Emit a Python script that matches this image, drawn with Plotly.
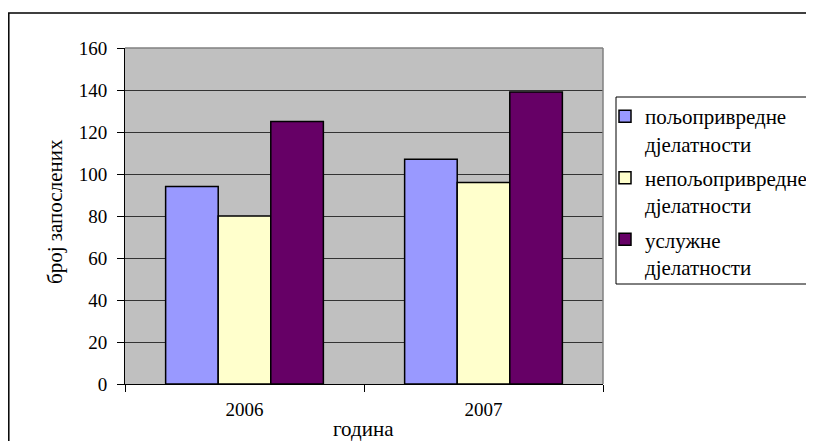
import plotly.graph_objects as go

years = ["2006", "2007"]
series_names = ["пољопривредне<br>дјелатности", "непољопривредне<br>дјелатности", "услужне<br>дјелатности"]
agri = [94, 107]
nonagri = [80, 96]
services = [125, 139]
colors = ["#9999FF", "#FFFFCC", "#660066"]
y_ticks = [0, 20, 40, 60, 80, 100, 120, 140, 160]

FONT = "Liberation Serif, Times New Roman, serif"
OFF = 8  # page body margin
W, H = 814 - OFF, 441 - OFF
L, R, T, B = 125 - OFF, 603 - OFF, 48 - OFF, 384 - OFF

def px_x(p):
    return (p - OFF - L) / (R - L)

def px_y(p):
    return (B - (p - OFF)) / (B - T)

fig = go.Figure()
for i, (name, vals, col) in enumerate(zip(series_names, [agri, nonagri, services], colors)):
    fig.add_trace(go.Bar(x=years, y=vals, name=name, legendgroup=f"g{i}",
                         marker=dict(color=col, line=dict(color="black", width=1.5))))

fig.update_layout(
    width=W, height=H,
    margin=dict(l=L, r=W - R, t=T, b=H - B, pad=0, autoexpand=False),
    paper_bgcolor="white", plot_bgcolor="#C0C0C0",
    barmode="group", bargap=0.34, bargroupgap=0,
    font=dict(family=FONT, size=20, color="black"),
    showlegend=True,
    legend=dict(x=px_x(605), y=px_y(96), xanchor="left", yanchor="top",
                bgcolor="rgba(0,0,0,0)", borderwidth=0, valign="top",
                font=dict(family=FONT, size=21, color="black"),
                tracegroupgap=4, itemwidth=30, traceorder="grouped"),
    xaxis=dict(type="category", tickson="boundaries", ticks="outside", ticklen=7,
               tickcolor="black", showline=True, linecolor="black", linewidth=1,
               showgrid=False, ticklabelstandoff=8, automargin=False,
               tickfont=dict(family=FONT, size=19, color="black")),
    yaxis=dict(range=[0, 160], tickvals=y_ticks, ticks="outside", ticklen=7,
               tickcolor="black", showline=True, linecolor="black", linewidth=1,
               showgrid=True, gridcolor="#333333", gridwidth=1, zeroline=False,
               ticklabelstandoff=6, automargin=False,
               tickfont=dict(family=FONT, size=19, color="black")),
    shapes=[
        dict(type="rect", xref="paper", yref="paper",
             x0=px_x(8.8), x1=px_x(830), y0=px_y(460), y1=px_y(13),
             line=dict(color="black", width=1.5), layer="below"),
        dict(type="line", xref="paper", yref="paper", x0=0, x1=1, y0=1, y1=1,
             line=dict(color="#808080", width=1.5)),
        dict(type="line", xref="paper", yref="paper", x0=1, x1=1, y0=0, y1=1,
             line=dict(color="#808080", width=1.5)),
        dict(type="rect", xref="paper", yref="paper",
             x0=px_x(616), x1=px_x(813), y0=px_y(284), y1=px_y(97),
             line=dict(color="black", width=1)),
    ],
    annotations=[
        dict(text="број запослених", xref="paper", yref="paper",
             x=px_x(55), y=px_y(212), textangle=-90, showarrow=False,
             xanchor="center", yanchor="middle",
             font=dict(family=FONT, size=21, color="black")),
        dict(text="година", xref="paper", yref="paper",
             x=px_x(363), y=px_y(429), showarrow=False,
             xanchor="center", yanchor="middle",
             font=dict(family=FONT, size=21, color="black")),
    ],
)

fig.write_html("out.html")
